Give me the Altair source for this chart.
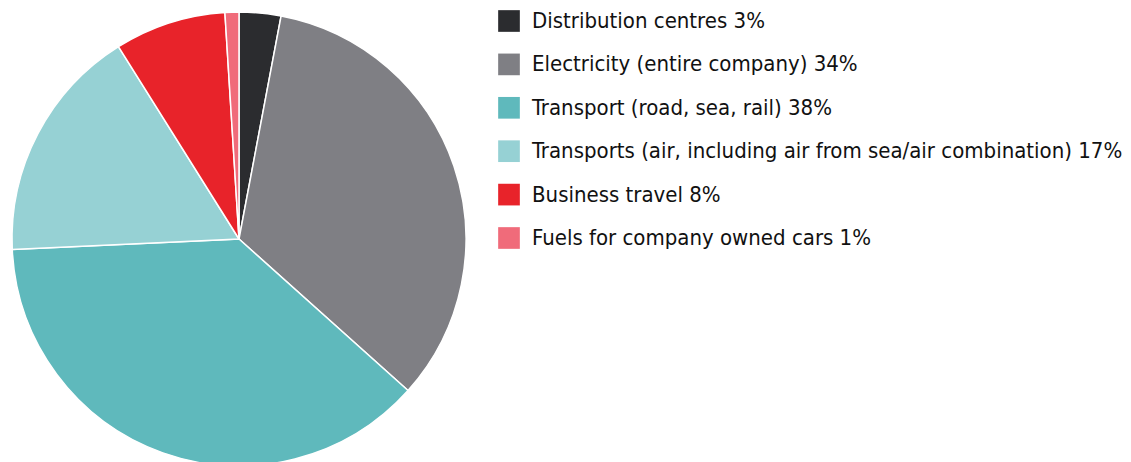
import altair as alt
import pandas as pd

categories = [
    "Distribution centres",
    "Electricity (entire company)",
    "Transport (road, sea, rail)",
    "Transports (air, including air from sea/air combination)",
    "Business travel",
    "Fuels for company owned cars",
]
values = [3, 34, 38, 17, 8, 1]
colors = ["#2b2c2f", "#7f7f84", "#5fb9bc", "#96d1d4", "#e8232a", "#f06b7a"]

labels = [f"{c} {v}%" for c, v in zip(categories, values)]
df = pd.DataFrame({"label": labels, "value": values, "order": list(range(len(values)))})

chart = (
    alt.Chart(df)
    .mark_arc(outerRadius=227, stroke="white", strokeWidth=1.5)
    .encode(
        theta=alt.Theta("value:Q", stack=True),
        order=alt.Order("order:Q"),
        color=alt.Color(
            "label:N",
            sort=labels,
            scale=alt.Scale(domain=labels, range=colors),
            legend=alt.Legend(
                title=None,
                orient="none",
                legendX=490,
                legendY=2,
                padding=0,
                symbolType="square",
                symbolSize=470,
                symbolStrokeWidth=0,
                labelFont="DejaVu Sans Condensed",
                labelFontSize=22,
                labelColor="#111111",
                labelOffset=12,
                labelLimit=800,
                rowPadding=21.4,
            ),
        ),
    )
    .properties(width=462, height=462, padding=0)
    .configure_view(stroke=None)
)

chart.save("out.html", embed_options={"renderer": "svg", "actions": False})
